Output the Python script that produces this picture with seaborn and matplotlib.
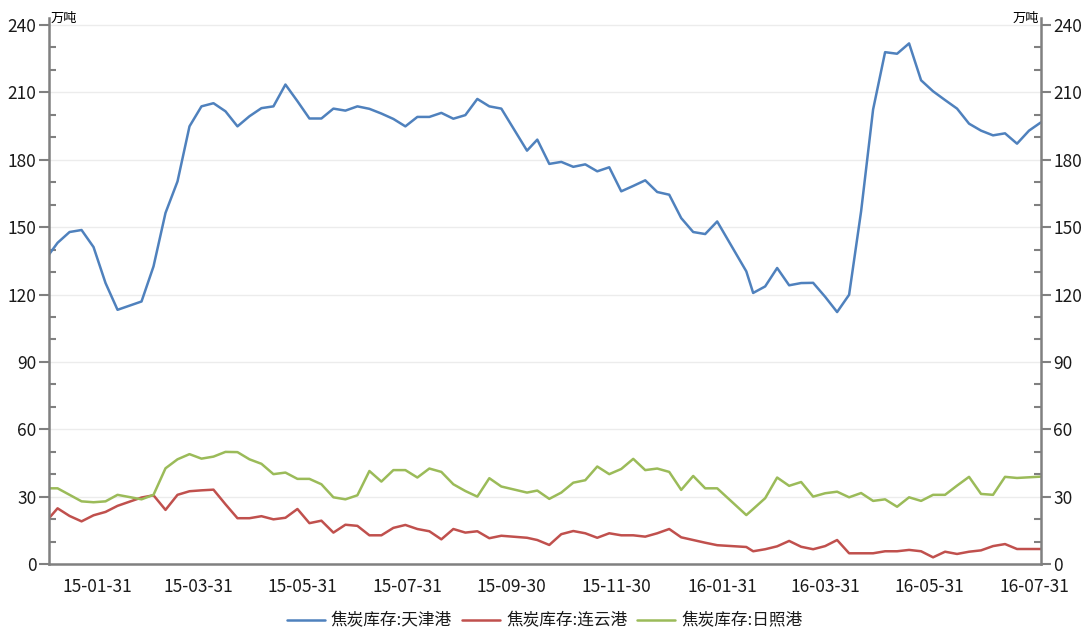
import pandas as pd
import matplotlib.pyplot as plt
from matplotlib.ticker import MultipleLocator, FixedLocator
import matplotlib.dates as mdates
import seaborn as sns

dates = [
    "2015-01-03", "2015-01-08", "2015-01-15", "2015-01-22", "2015-01-29", "2015-02-05", "2015-02-12",
    "2015-02-26", "2015-03-05", "2015-03-12", "2015-03-19", "2015-03-26", "2015-04-02", "2015-04-09",
    "2015-04-16", "2015-04-23", "2015-04-30", "2015-05-07", "2015-05-14", "2015-05-21", "2015-05-28",
    "2015-06-04", "2015-06-11", "2015-06-18", "2015-06-25", "2015-07-02", "2015-07-09", "2015-07-16",
    "2015-07-23", "2015-07-30", "2015-08-06", "2015-08-13", "2015-08-20", "2015-08-27", "2015-09-03",
    "2015-09-10", "2015-09-17", "2015-09-24", "2015-10-09", "2015-10-15", "2015-10-22", "2015-10-29",
    "2015-11-05", "2015-11-12", "2015-11-19", "2015-11-26", "2015-12-03", "2015-12-10", "2015-12-17",
    "2015-12-24", "2015-12-31",
    "2016-01-07", "2016-01-14", "2016-01-21", "2016-01-28", "2016-02-14", "2016-02-18", "2016-02-25",
    "2016-03-03", "2016-03-10", "2016-03-17", "2016-03-24", "2016-03-31", "2016-04-07", "2016-04-14",
    "2016-04-21", "2016-04-28", "2016-05-05", "2016-05-12", "2016-05-19", "2016-05-26", "2016-06-02",
    "2016-06-09", "2016-06-16", "2016-06-23", "2016-06-30", "2016-07-07", "2016-07-14", "2016-07-21",
    "2016-07-28", "2016-08-04",
]

tianjin = [
    137.8, 143, 147.8, 148.7, 141.1, 125.1, 113.2, 116.9, 132.5, 156.3, 170.3, 194.8, 203.7, 205.1,
    201.5, 194.8, 199.3, 202.9, 203.7, 213.4, 206, 198.3, 198.3, 202.7, 201.8, 203.7, 202.6, 200.5,
    198.1, 194.8, 199, 199, 200.8, 198.2, 199.8, 207, 203.7, 202.7, 184, 188.9, 178.1, 179,
    176.8, 177.9, 174.8, 176.6, 165.9, 168.3, 170.8, 165.6, 164.4,
    154, 147.8, 146.9, 152.5, 130.3, 120.7, 123.6, 131.8, 124.1, 125.1, 125.2, 119, 112.2, 119.9,
    157, 202.3, 227.8, 227.1, 231.7, 215.3, 210.4, 206.5, 202.7, 196, 192.9, 190.8, 191.7, 187.1,
    192.9, 196.6,
]

lianyungang = [
    20.5, 24.9, 21.5, 19.1, 21.8, 23.3, 26, 29.7, 30.7, 24.2, 30.9, 32.5, 32.9, 33.2,
    26.7, 20.5, 20.5, 21.4, 20, 20.7, 24.6, 18.3, 19.4, 14.1, 17.6, 17.1, 12.9, 12.9,
    16.2, 17.5, 15.7, 14.7, 11.1, 15.7, 14.1, 14.7, 11.6, 12.7, 11.8, 10.8, 8.6, 13.4,
    14.8, 13.8, 11.8, 13.8, 12.9, 12.9, 12.3, 13.8, 15.7,
    12, 10.8, 9.6, 8.5, 7.7, 5.8, 6.7, 8, 10.4, 7.8, 6.7, 8.1, 10.8, 4.9,
    4.9, 4.9, 5.8, 5.8, 6.4, 5.8, 3.1, 5.6, 4.6, 5.6, 6.2, 8.1, 9, 6.8,
    6.8, 6.8,
]

rizhao = [
    33.8, 33.8, 30.9, 28, 27.6, 28, 30.9, 28.9, 30.9, 42.7, 46.7, 49, 47, 47.9,
    50, 49.9, 46.7, 44.7, 40.1, 40.8, 38, 38, 35.6, 29.8, 28.9, 30.7, 41.5, 36.8,
    41.9, 41.9, 38.6, 42.6, 41.1, 35.6, 32.6, 30.1, 38.3, 34.6, 31.9, 32.8, 29.1, 31.9,
    36.3, 37.4, 43.5, 40.1, 42.4, 46.9, 41.9, 42.6, 41.1,
    33.1, 39.3, 33.8, 33.8, 21.9, 24.6, 29.4, 38.6, 34.9, 36.6, 30.1, 31.6, 32.3, 29.8,
    31.7, 28.2, 28.9, 25.6, 29.8, 28.2, 30.9, 30.9, 35, 38.9, 31.3, 30.9, 38.9, 38.4,
    38.7, 39,
]

series_names = ["焦炭库存:天津港", "焦炭库存:连云港", "焦炭库存:日照港"]
colors = ["#4f81bd", "#c0504d", "#9bbb59"]
unit = "万吨"

major_ticks = ["2015-01-31", "2015-03-31", "2015-05-31", "2015-07-31", "2015-09-30",
               "2015-11-30", "2016-01-31", "2016-03-31", "2016-05-31", "2016-07-31"]
minor_ticks = ["2015-02-28", "2015-04-30", "2015-06-30", "2015-08-31", "2015-10-31",
               "2015-12-31", "2016-02-29", "2016-04-30", "2016-06-30"]

df = pd.DataFrame({"date": pd.to_datetime(dates),
                   series_names[0]: tianjin,
                   series_names[1]: lianyungang,
                   series_names[2]: rizhao})
long_df = df.melt(id_vars="date", var_name="series", value_name="value")

sns.set_style("white")
plt.rcParams["font.family"] = ["Noto Sans CJK SC", "DejaVu Sans"]
axis_grey = "#808080"
text_col = "#1a1a1a"
tick_size = 12.5

fig = plt.figure(figsize=(10.89, 6.32), dpi=100)
ax = fig.add_axes([49 / 1089, 1 - 564.3 / 632, (1041 - 49) / 1089, (564.3 - 18) / 632])

sns.lineplot(data=long_df, x="date", y="value", hue="series", hue_order=series_names,
             palette=colors, linewidth=1.8, ax=ax, legend=False)

ax.set_xlim(df["date"].min(), df["date"].max())
ax.set_ylim(0, 243)
ax.set_xlabel("")
ax.set_ylabel("")

ax.yaxis.set_major_locator(MultipleLocator(30))
ax.yaxis.set_minor_locator(MultipleLocator(10))
ax.yaxis.grid(True, which="major", color="#ececec", linewidth=1)
ax.set_axisbelow(True)

ax.xaxis.set_major_locator(FixedLocator(mdates.date2num(pd.to_datetime(major_ticks))))
ax.xaxis.set_minor_locator(FixedLocator(mdates.date2num(pd.to_datetime(minor_ticks))))
ax.xaxis.set_major_formatter(mdates.DateFormatter("%y-%m-%d"))

for side in ["top", "right"]:
    ax.spines[side].set_visible(False)
for side in ["left", "bottom"]:
    ax.spines[side].set_color(axis_grey)
    ax.spines[side].set_linewidth(1.8)

ax.tick_params(axis="y", which="major", direction="out", length=7, width=1.5,
               color=axis_grey, labelsize=tick_size, labelcolor=text_col, pad=2)
ax.tick_params(axis="y", which="minor", direction="in", length=5, width=1.5, color=axis_grey)
ax.tick_params(axis="x", which="major", direction="out", length=9, width=1.5,
               color=axis_grey, labelsize=tick_size, labelcolor=text_col, pad=1)
ax.tick_params(axis="x", which="minor", direction="out", length=5, width=1.5, color=axis_grey)

# right-hand mirror axis
ax2 = ax.twinx()
ax2.set_ylim(ax.get_ylim())
ax2.yaxis.set_major_locator(MultipleLocator(30))
ax2.yaxis.set_minor_locator(MultipleLocator(10))
for side in ["top", "left", "bottom"]:
    ax2.spines[side].set_visible(False)
ax2.spines["right"].set_color(axis_grey)
ax2.spines["right"].set_linewidth(1.8)
ax2.tick_params(axis="y", which="major", direction="out", length=7, width=1.5,
                color=axis_grey, labelsize=tick_size, labelcolor=text_col, pad=2)
ax2.tick_params(axis="y", which="minor", direction="in", length=5, width=1.5, color=axis_grey)

ax.text(0.002, 1.0, unit, transform=ax.transAxes, ha="left", va="center",
        fontsize=9.5, color="#000000")
ax.text(0.998, 1.0, unit, transform=ax.transAxes, ha="right", va="center",
        fontsize=9.5, color="#000000")

handles = [plt.Line2D([], [], color=c, linewidth=1.8) for c in colors]
fig.legend(handles, series_names, loc="center", bbox_to_anchor=(0.5, 1 - 621 / 632),
           ncol=3, frameon=False, fontsize=12, handlelength=2.3, handletextpad=0.35,
           columnspacing=0.6, labelcolor=text_col)

fig.savefig("out.png", dpi=100)
